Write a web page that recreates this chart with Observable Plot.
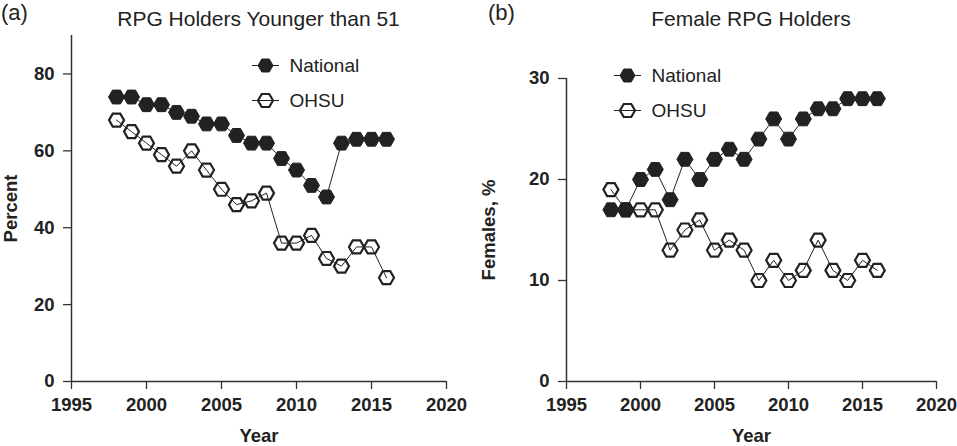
<!DOCTYPE html>
<html>
<head>
<meta charset="utf-8">
<script src="https://cdn.jsdelivr.net/npm/d3@7"></script>
<script src="https://cdn.jsdelivr.net/npm/@observablehq/plot@0.6"></script>
<style>
  body { margin: 0; background: #fff; }
  #chart { position: relative; width: 957px; height: 446px; font-family: "Liberation Sans", Arial, sans-serif; color: #222; }
  #chart svg { position: absolute; top: 0; }
  .tag, .title { position: absolute; line-height: 1; }
  .tag { font-size: 22px; }
  .title { font-size: 21px; text-align: center; }
</style>
</head>
<body>
<div id="chart"></div>
<script>
const years = [1998, 1999, 2000, 2001, 2002, 2003, 2004, 2005, 2006, 2007, 2008, 2009, 2010, 2011, 2012, 2013, 2014, 2015, 2016];
const ageNational = [74, 74, 72, 72, 70, 69, 67, 67, 64, 62, 62, 58, 55, 51, 48, 62, 63, 63, 63];
const ageOhsu = [68, 65, 62, 59, 56, 60, 55, 50, 46, 47, 49, 36, 36, 38, 32, 30, 35, 35, 27];
const femNational = [17, 17, 20, 21, 18, 22, 20, 22, 23, 22, 24, 26, 24, 26, 27, 27, 28, 28, 28];
const femOhsu = [19, 17, 17, 17, 13, 15, 16, 13, 14, 13, 10, 12, 10, 11, 14, 11, 10, 12, 11];
const seriesNames = ["National", "OHSU"];
const xTicks = [1995, 2000, 2005, 2010, 2015, 2020];
const ageTicks = [0, 20, 40, 60, 80];
const femTicks = [0, 10, 20, 30];

const ink = "#222";

// flat-topped hexagon (vertices left and right)
const hexFlat = {
  draw(ctx, size) {
    const r = Math.sqrt(size / Math.PI);
    for (let i = 0; i < 6; i++) {
      const a = (i * Math.PI) / 3;
      if (i === 0) ctx.moveTo(r * Math.cos(a), r * Math.sin(a));
      else ctx.lineTo(r * Math.cos(a), r * Math.sin(a));
    }
    ctx.closePath();
  }
};
// short horizontal stroke for the legend keys
const keyLine = {
  draw(ctx) {
    ctx.moveTo(-13.5, 0);
    ctx.lineTo(13.5, 0);
  }
};

const rows = (vals) => years.map((year, i) => ({ year, value: vals[i] }));

function legendMarks(lg) {
  return seriesNames.flatMap((name, i) => {
    const dy = lg.dy[i];
    const filled = i === 0;
    return [
      Plot.dot([name], { frameAnchor: "top-left", dx: lg.dx, dy, symbol: keyLine, r: 7, stroke: ink, strokeWidth: 1 }),
      Plot.dot([name], {
        frameAnchor: "top-left", dx: lg.dx, dy, symbol: hexFlat, r: 7.5,
        fill: filled ? ink : "none", stroke: ink, strokeWidth: filled ? 1 : 2.2
      }),
      Plot.text([name], {
        frameAnchor: "top-left", dx: lg.dx + 24, dy, text: (d) => d, textAnchor: "start",
        lineAnchor: "middle", fontSize: 19, fontWeight: "normal", fill: ink
      })
    ];
  });
}

function panel(opts) {
  const nat = rows(opts.national), oh = rows(opts.ohsu);
  return Plot.plot({
    width: opts.width,
    height: 446,
    marginLeft: opts.ml,
    marginRight: opts.mr,
    marginTop: opts.mt,
    marginBottom: 65,
    style: { fontFamily: "Liberation Sans, Arial, sans-serif", fontSize: "18.5px", fontWeight: "bold", color: ink, background: "transparent", overflow: "visible" },
    x: { domain: [1995, 2020] },
    y: { domain: opts.yDomain },
    marks: [
      Plot.axisX({ ticks: xTicks, tickSize: 8, tickPadding: 8, tickFormat: (d) => String(d), stroke: "#333", strokeWidth: 1.3,
        label: "Year", labelAnchor: "center", labelArrow: "none", labelOffset: 60 }),
      Plot.axisY({ ticks: opts.yTicks, tickSize: 8, tickPadding: 9, stroke: "#333", strokeWidth: 1.3,
        label: opts.yLabel, labelAnchor: "center", labelArrow: "none", labelOffset: opts.ml - 3 }),
      Plot.ruleX([1995], { stroke: "#333", strokeWidth: 1.5 }),
      Plot.ruleY([0], { stroke: "#333", strokeWidth: 1.5 }),
      Plot.line(nat, { x: "year", y: "value", stroke: ink, strokeWidth: 1 }),
      Plot.line(oh, { x: "year", y: "value", stroke: ink, strokeWidth: 1 }),
      Plot.dot(nat, { x: "year", y: "value", symbol: hexFlat, r: 8, fill: ink, stroke: ink, strokeWidth: 1 }),
      Plot.dot(oh, { x: "year", y: "value", symbol: hexFlat, r: 7.5, fill: "none", stroke: ink, strokeWidth: 2.2 }),
      ...legendMarks(opts.legend)
    ]
  });
}

const chart = document.getElementById("chart");

const a = panel({
  width: 478, ml: 71, mr: 32, mt: 35,
  yDomain: [0, 90], yTicks: ageTicks, yLabel: "Percent",
  national: ageNational, ohsu: ageOhsu,
  legend: { dx: 194, dy: [30, 65] }
});
a.style.left = "0px";
chart.append(a);

const b = panel({
  width: 479, ml: 88, mr: 21, mt: 78,
  yDomain: [0, 30], yTicks: femTicks, yLabel: "Females, %",
  national: femNational, ohsu: femOhsu,
  legend: { dx: 61, dy: [-3, 32] }
});
b.style.left = "478px";
chart.append(b);

function label(cls, text, css) {
  const el = document.createElement("div");
  el.className = cls;
  el.textContent = text;
  Object.assign(el.style, css);
  chart.append(el);
}
label("tag", "(a)", { left: "1px", top: "2px" });
label("title", "RPG Holders Younger than 51", { left: "71px", width: "375px", top: "8px" });
label("tag", "(b)", { left: "488px", top: "2px" });
label("title", "Female RPG Holders", { left: "566px", width: "370px", top: "8px" });
</script>
</body>
</html>
